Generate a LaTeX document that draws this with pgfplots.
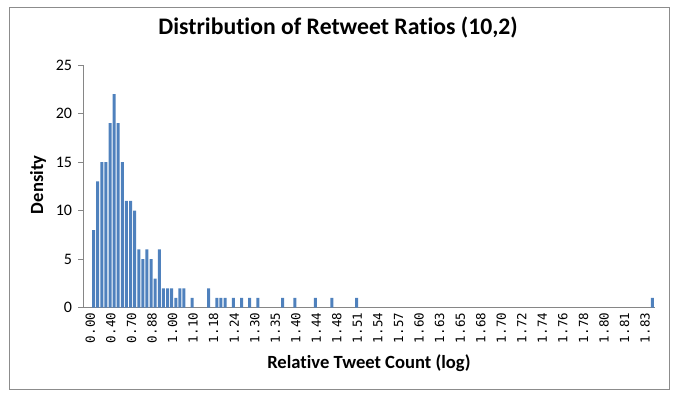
\documentclass[border=0pt]{standalone}
\usepackage{pgfplots}
\pgfplotsset{compat=1.18}
\usepackage{fontspec}
\setmainfont{Carlito}[RawFeature=-liga]
\newfontfamily\monofont{DejaVu Sans Mono}
\definecolor{barblue}{HTML}{4F81BD}
\definecolor{axgray}{HTML}{868686}
\definecolor{bordgray}{HTML}{8C8C8C}
\begin{document}
\begin{tikzpicture}
\useasboundingbox (0bp,0bp) rectangle (677bp,399bp);
\draw[bordgray, line width=1bp] (9bp,9bp) rectangle (669bp,391bp);
\begin{axis}[
  at={(83.3bp,91.3bp)}, anchor=south west,
  scale only axis, width=571.2bp, height=242.7bp,
  xmin=-0.5, xmax=138.5, ymin=0, ymax=25,
  axis x line*=bottom, axis y line*=left,
  axis line style={axgray, line width=1bp, -},
  ytick={0,5,10,15,20,25},
  ytick style={axgray, line width=1bp},
  major tick length=5bp,
  tick align=outside,
  xtick={0,5,...,135},
  xtick style={draw=none},
  xticklabels={0.00,0.40,0.70,0.88,1.00,1.10,1.18,1.24,1.30,1.35,1.40,1.44,1.48,1.51,1.54,1.57,1.60,1.63,1.65,1.68,1.70,1.72,1.74,1.76,1.78,1.80,1.81,1.83},
  xticklabel style={rotate=90, anchor=east, font=\monofont\fontsize{12.5bp}{13bp}\selectfont, inner sep=0pt, yshift=-5bp},
  yticklabel style={font=\fontsize{16bp}{17bp}\selectfont, inner sep=0pt, xshift=-6bp},
  /pgf/number format/assume math mode=true,
  title={Distribution of Retweet Ratios (10,2)},
  title style={font=\bfseries\fontsize{23.7bp}{26bp}\selectfont, at={(axis description cs:0.446,1.128)}, anchor=center, inner sep=0pt},
  xlabel={Relative Tweet Count (log)},
  xlabel style={font=\bfseries\fontsize{18.6bp}{20bp}\selectfont, at={(axis description cs:0.5,-0.228)}, anchor=center, inner sep=0pt},
  ylabel={Density},
  ylabel style={font=\bfseries\fontsize{18.6bp}{20bp}\selectfont, at={(axis description cs:-0.0793,0.506)}, anchor=center, rotate=0, inner sep=0pt},
  ybar, bar width=3bp, bar shift=0pt,
  clip=false,
]
\addplot[fill=barblue, draw=none] coordinates {
(2,8) (3,13) (4,15) (5,15) (6,19) (7,22) (8,19) (9,15) (10,11) (11,11)
(12,10) (13,6) (14,5) (15,6) (16,5) (17,3) (18,6) (19,2) (20,2) (21,2)
(22,1) (23,2) (24,2) (26,1) (30,2) (32,1) (33,1) (34,1) (36,1) (38,1)
(40,1) (42,1) (48,1) (51,1) (56,1) (60,1) (66,1) (138,1)
};
\end{axis}
\end{tikzpicture}
\end{document}
